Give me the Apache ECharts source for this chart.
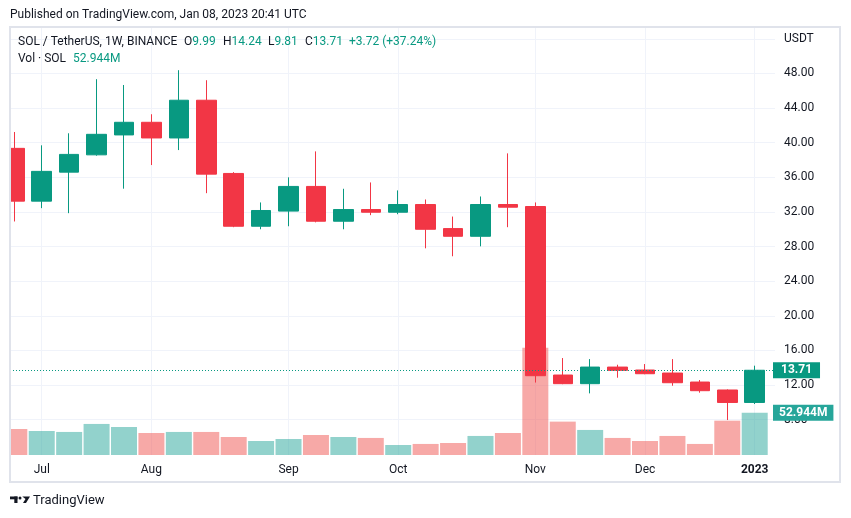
<!DOCTYPE html>
<html><head><meta charset="utf-8">
<script src="https://cdn.jsdelivr.net/npm/echarts@6/dist/echarts.min.js"></script>
<style>html,body{margin:0;padding:0;background:#fff}#c{width:851px;height:518px}</style>
</head><body><div id="c"></div>
<script>
// ---- data (weekly SOL/USDT, Binance) ----
const weeks = ['2022-06-27','2022-07-04','2022-07-11','2022-07-18','2022-07-25','2022-08-01','2022-08-08','2022-08-15','2022-08-22','2022-08-29','2022-09-05','2022-09-12','2022-09-19','2022-09-26','2022-10-03','2022-10-10','2022-10-17','2022-10-24','2022-10-31','2022-11-07','2022-11-14','2022-11-21','2022-11-28','2022-12-05','2022-12-12','2022-12-19','2022-12-26','2023-01-02'];
const opens  = [39.35,33.25,36.60,38.60,40.90,42.36,40.55,44.91,36.45,30.35,32.10,34.95,30.93,32.28,31.97,32.86,30.08,29.19,32.86,32.63,13.16,12.16,14.08,13.74,13.39,12.35,11.43,9.99];
const highs  = [41.24,39.70,41.09,47.34,46.67,43.29,48.38,47.22,36.60,33.10,36.00,39.00,34.68,35.41,34.49,33.44,31.47,33.79,38.77,33.10,15.12,15.00,14.35,14.43,15.00,12.58,11.50,14.24];
const lows   = [30.90,32.44,31.86,38.50,34.69,37.42,39.15,34.17,30.24,30.00,30.35,30.80,30.00,31.63,31.74,27.80,26.88,28.03,30.24,12.29,12.10,11.04,12.85,13.25,11.92,11.12,7.96,9.81];
const closes = [33.25,36.69,38.65,40.97,42.36,40.55,44.91,36.37,30.35,32.17,34.95,30.93,32.28,31.97,32.86,30.00,29.19,32.86,32.55,13.08,12.16,14.08,13.70,13.31,12.27,11.35,9.99,13.71];
const volumes = [32.5,30.0,28.8,38.8,35.0,27.5,28.8,28.8,22.5,17.5,20.0,25.0,22.5,21.3,12.5,13.8,15.0,23.8,27.5,133.9,41.7,31.3,21.3,17.5,23.8,13.8,42.9,52.944]; // millions
const monthIdx = [1,5,10,14,19,23,27];
const monthLabels = ['Jul','Aug','Sep','Oct','Nov','Dec','2023'];
const priceMin = 4, priceMax = 52, priceStep = 4;

// ---- build ----
const FONT = 'Roboto, "Noto Sans", sans-serif';
const TXT = '#131722', UP = '#089981', DOWN = '#f23645', GRID = '#f0f3fa';
const n = weeks.length, last = n - 1;
const candleData = weeks.map((w, i) => [i, opens[i], closes[i], lows[i], highs[i]]);
const volData = weeks.map((w, i) => ({
  value: [i, volumes[i]],
  itemStyle: { color: closes[i] >= opens[i] ? 'rgba(38,166,154,0.5)' : 'rgba(239,83,80,0.5)' }
}));
const chg = closes[last] - closes[last - 1];
const pct = chg / closes[last - 1] * 100;
const nLines = (priceMax - priceMin) / priceStep + 1;
const splitColors = [];
for (let k = 0; k < nLines; k++) splitColors.push(k === 0 ? 'rgba(0,0,0,0)' : GRID);
const F12 = '12px ' + FONT;
function kv(k, v) {
  return { text: '{k|' + k + '}{v|' + v + '}', rich: { k: { fill: TXT, font: F12 }, v: { fill: UP, font: F12 } }, textVerticalAlign: 'middle' };
}

const chart = echarts.init(document.getElementById('c'), null, { renderer: 'canvas' });
const option = {
  animation: false,
  backgroundColor: '#ffffff',
  textStyle: { fontFamily: FONT },
  grid: [
    { left: 10, right: 76, top: 27, bottom: 63 },
    { left: 10, right: 76, top: 38.88, bottom: 63.7 }
  ],
  xAxis: [
    {
      type: 'value', gridIndex: 0, min: -0.157, max: 27.74,
      axisLine: { show: false },
      axisTick: { show: false, customValues: monthIdx },
      splitLine: { show: true, lineStyle: { color: GRID, width: 1 } },
      axisLabel: {
        customValues: monthIdx, color: TXT, fontSize: 12, margin: 9, fontFamily: FONT,
        formatter: v => {
          const k = monthIdx.indexOf(Math.round(v));
          if (k < 0) return '';
          return k === monthIdx.length - 1 ? '{b|' + monthLabels[k] + '}' : monthLabels[k];
        },
        rich: { b: { fontWeight: 'bold', fontSize: 12, color: TXT, fontFamily: FONT } }
      }
    },
    { type: 'value', gridIndex: 1, min: 0, max: 1, show: false }
  ],
  yAxis: [
    { type: 'value', gridIndex: 0, min: 3.92, max: 53.37, show: false },
    { type: 'value', gridIndex: 0, min: 0, max: 534.8, show: false },
    {
      type: 'value', gridIndex: 1, position: 'right', min: priceMin, max: priceMax, interval: priceStep,
      axisLine: { show: false }, axisTick: { show: false },
      splitLine: { show: true, lineStyle: { color: splitColors, width: 1 } },
      axisLabel: {
        color: TXT, fontSize: 12, margin: 9, align: 'left', fontFamily: FONT,
        formatter: v => v === priceMax ? 'USDT' : (v === priceMin ? '' : v.toFixed(2))
      }
    }
  ],
  series: [
    {
      type: 'bar', name: 'Vol', xAxisIndex: 0, yAxisIndex: 1, data: volData,
      barWidth: 26, clip: true, silent: true,
      markLine: {
        silent: true, symbol: ['none', 'none'],
        lineStyle: { color: 'rgba(0,0,0,0)', width: 0 },
        label: {
          show: true, position: 'end', distance: -2,
          formatter: volumes[last].toFixed(3) + 'M',
          backgroundColor: '#26a69a', color: '#ffffff', fontSize: 12, fontWeight: 'bold',
          padding: [2, 6, 2, 6], fontFamily: FONT
        },
        data: [{ yAxis: volumes[last] }]
      }
    },
    {
      type: 'candlestick', name: 'SOL', xAxisIndex: 0, yAxisIndex: 0, data: candleData,
      encode: { x: 0, y: [1, 2, 3, 4] },
      barWidth: 20, clip: true, silent: true,
      itemStyle: { color: UP, color0: DOWN, borderColor: UP, borderColor0: DOWN, borderWidth: 1 },
      markLine: {
        silent: true, symbol: ['none', 'none'],
        lineStyle: { color: UP, width: 1, type: [1, 2] },
        label: {
          show: true, position: 'end', distance: -2,
          formatter: closes[last].toFixed(2),
          backgroundColor: UP, color: '#ffffff', fontSize: 12, fontWeight: 'bold',
          padding: [2, 8, 2, 8], fontFamily: FONT
        },
        data: [{ yAxis: closes[last] }]
      }
    }
  ],
  graphic: [
    { type: 'rect', z: 90, shape: { x: 0, y: 26, width: 9, height: 458 }, style: { fill: '#ffffff' } },
    { type: 'rect', z: 100, shape: { x: 10, y: 27, width: 830, height: 455 }, style: { fill: 'none', stroke: '#e0e3eb', lineWidth: 2 } },
    { type: 'text', z: 100, x: 10, y: 15, style: { text: 'Published on TradingView.com, Jan 08, 2023 20:41 UTC', fill: TXT, font: F12, textVerticalAlign: 'middle' } },
    { type: 'text', z: 100, x: 18, y: 42, style: { text: 'SOL / TetherUS, 1W, BINANCE', fill: TXT, font: F12, textVerticalAlign: 'middle' } },
    { type: 'text', z: 100, x: 184, y: 42, style: kv('O', opens[last].toFixed(2)) },
    { type: 'text', z: 100, x: 223, y: 42, style: kv('H', highs[last].toFixed(2)) },
    { type: 'text', z: 100, x: 268, y: 42, style: kv('L', lows[last].toFixed(2)) },
    { type: 'text', z: 100, x: 305, y: 42, style: kv('C', closes[last].toFixed(2)) },
    { type: 'text', z: 100, x: 349, y: 42, style: { text: '+' + chg.toFixed(2) + ' (+' + pct.toFixed(2) + '%)', fill: UP, font: F12, textVerticalAlign: 'middle' } },
    { type: 'text', z: 100, x: 18, y: 59, style: { text: 'Vol · SOL', fill: TXT, font: F12, textVerticalAlign: 'middle' } },
    { type: 'text', z: 100, x: 73, y: 59, style: { text: volumes[last].toFixed(3) + 'M', fill: UP, font: F12, textVerticalAlign: 'middle' } },
    // TradingView logo
    { type: 'rect', z: 100, shape: { x: 10, y: 496.5, width: 7.5, height: 2.8 }, style: { fill: TXT } },
    { type: 'rect', z: 100, shape: { x: 14.3, y: 496.5, width: 3.2, height: 6.5 }, style: { fill: TXT } },
    { type: 'circle', z: 100, shape: { cx: 20, cy: 498, r: 1.5 }, style: { fill: TXT } },
    { type: 'polygon', z: 100, shape: { points: [[22.3, 496.5], [30, 496.5], [26, 503], [23, 503], [25.5, 499]] }, style: { fill: TXT } },
    { type: 'text', z: 100, x: 33, y: 500.5, style: { text: 'TradingView', fill: TXT, font: '13px ' + FONT, textVerticalAlign: 'middle' } }
  ]
};
chart.setOption(option);
</script>
</body></html>
